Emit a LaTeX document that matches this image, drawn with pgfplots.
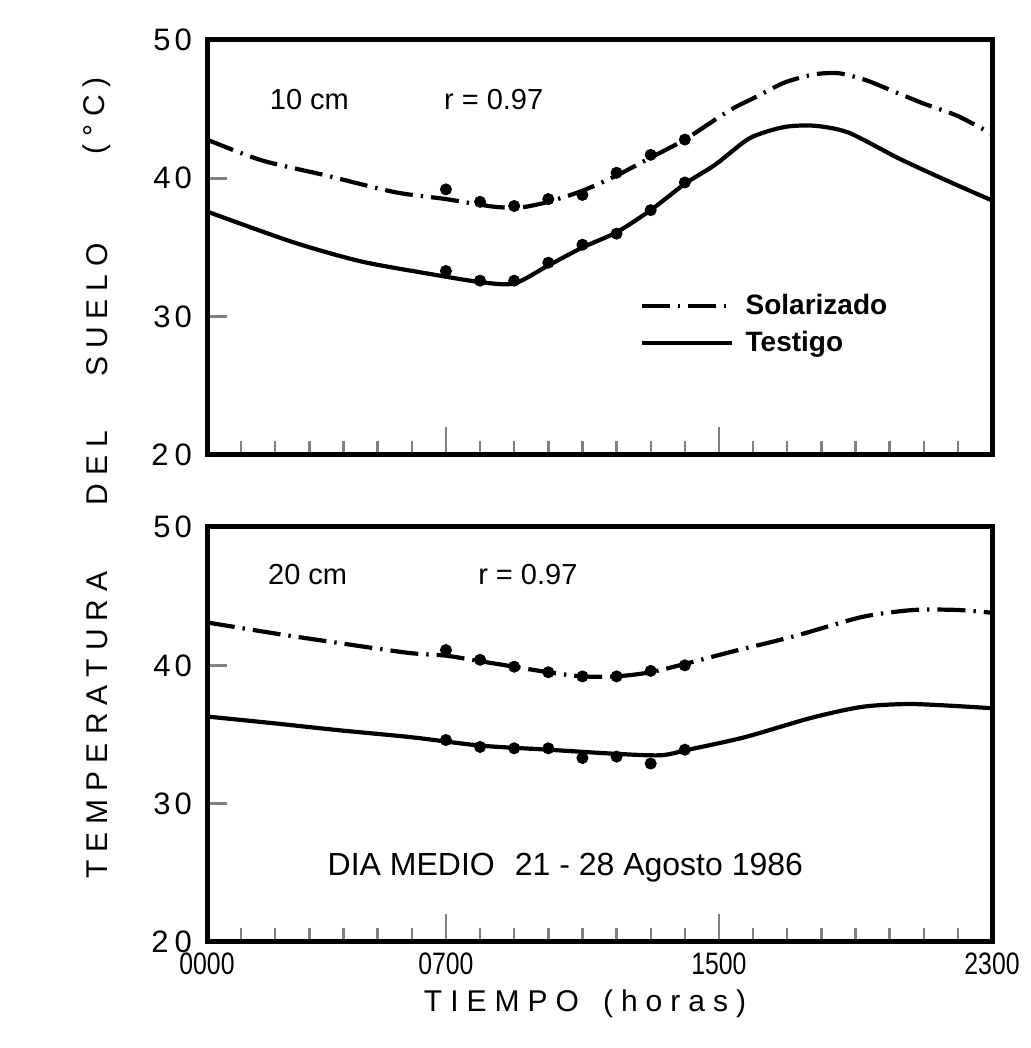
\documentclass[border=0pt]{standalone}
\usepackage{fontspec}
\setmainfont{Liberation Sans}
\usepackage{graphicx}
\usepackage{pgfplots}
\pgfplotsset{compat=1.18}
\newdimen\lsk \lsk=4pt
\makeatletter
\def\ls#1{\ls@#1\@nil\kern-\lsk\relax}
\def\ls@#1{\ifx#1\@nil\else#1\kern\lsk\relax\expandafter\ls@\fi}
\makeatother
\begin{document}
\begin{tikzpicture}
\useasboundingbox (0,0) rectangle (515.5pt,524pt);
\pgfplotsset{
  panel/.style={
    at={(103.5pt,#1)}, anchor=south west, scale only axis,
    width=392.5pt, height=207.5pt,
    xmin=0, xmax=23, ymin=20, ymax=50,
    axis line style={line width=2.5pt},
    tick align=inside, xtick pos=bottom, ytick pos=left,
    xtick={0,7,15,23}, minor xtick={1,...,22},
    ytick={20,30,40,50},
    yticklabels={2\kern3pt 0,3\kern2pt 0,4\kern2pt 0,5\kern2pt 0},
    xtick style={line width=1.2pt, /pgfplots/major tick length=14pt},
    minor tick length=7pt,
    ytick style={line width=1.2pt, /pgfplots/major tick length=10pt},
    tick label style={font=\fontsize{15.5}{15.5}\selectfont},
    yticklabel style={xshift=-4pt},
    clip=false,
  },
  solar/.style={black, line width=2.1pt, dash pattern=on 14pt off 4pt on 1.2pt off 4pt, smooth, tension=0.45},
  test/.style={black, line width=2.1pt, smooth, tension=0.45},
  dots/.style={only marks, mark=*, mark size=2.8pt, black, forget plot},
}
% ---------- top panel: 10 cm ----------
\begin{axis}[panel=296.5pt, xticklabels={},
  legend style={at={(0.5504,0.3933)}, anchor=north west, draw=none, fill=none,
    inner sep=0pt, font=\bfseries\fontsize{14}{14}\selectfont, row sep=5pt,
    nodes={inner sep=1pt},
    /tikz/every odd column/.append style={column sep=5pt}},
  legend cell align=left,
  legend image code/.code={\draw[#1] (0pt,0pt) -- (45pt,0pt);},
]
\addplot[solar] coordinates {(0,42.8) (1.6,41.3) (3.5,40.2) (5.5,39.0) (7,38.5) (8.4,37.95) (9.2,37.9) (10,38.3) (11,39.1) (12,40.2) (13,41.5) (14,42.8) (15.3,44.9) (16.1,45.9) (16.9,46.9) (17.75,47.5) (18.5,47.6) (19.3,47.1) (20.1,46.3) (21,45.4) (22,44.5) (23,43.2)};
\addlegendentry{Solarizado}
\addplot[test] coordinates {(0,37.6) (2.5,35.4) (4.5,34.0) (6.5,33.1) (8,32.5) (9,32.4) (10,33.7) (11,35.0) (12,36.1) (13,37.7) (14,39.6) (14.9,41.0) (15.9,42.9) (16.9,43.7) (17.8,43.8) (18.8,43.3) (20.3,41.4) (21.8,39.7) (23,38.4)};
\addlegendentry{Testigo}
\addplot[dots] coordinates {(7,39.2) (8,38.3) (9,38.0) (10,38.5) (11,38.8) (12,40.4) (13,41.7) (14,42.8)};
\addplot[dots] coordinates {(7,33.3) (8,32.6) (9,32.6) (10,33.9) (11,35.2) (12,36.0) (13,37.7) (14,39.7)};
\node[font=\fontsize{14.5}{14.5}\selectfont] at (axis cs:3.0,45.7) {10 cm};
\node[font=\fontsize{14.5}{14.5}\selectfont] at (axis cs:8.4,45.7) {r = 0.97};
\end{axis}
% ---------- bottom panel: 20 cm ----------
\begin{axis}[panel=53pt,
  xticklabels={\scalebox{0.8}[1]{0000},\scalebox{0.8}[1]{0700},\scalebox{0.8}[1]{1500},\scalebox{0.8}[1]{2300}},
  xticklabel style={yshift=-2pt},
]
\addplot[solar] coordinates {(0,43.1) (2,42.3) (3.9,41.6) (5.9,40.9) (7,40.7) (8,40.3) (9,39.9) (10,39.5) (11,39.2) (12,39.2) (13,39.5) (14,40.1) (15.4,41.0) (17.2,42.1) (19.2,43.5) (20.7,44.0) (22,44.0) (23,43.8)};
\addplot[test] coordinates {(0,36.3) (2,35.8) (3.9,35.3) (6,34.8) (8,34.2) (10,33.9) (12,33.6) (13.3,33.5) (14.1,33.9) (15.75,34.8) (17.7,36.2) (19.2,37.0) (20.7,37.2) (23,36.9)};
\addplot[dots] coordinates {(7,41.1) (8,40.4) (9,39.9) (10,39.5) (11,39.2) (12,39.2) (13,39.6) (14,40.0)};
\addplot[dots] coordinates {(7,34.6) (8,34.1) (9,34.0) (10,34.0) (11,33.3) (12,33.4) (13,32.9) (14,33.9)};
\node[font=\fontsize{14.5}{14.5}\selectfont] at (axis cs:2.95,46.6) {20 cm};
\node[font=\fontsize{14.5}{14.5}\selectfont] at (axis cs:9.4,46.6) {r = 0.97};
\node[font=\fontsize{16}{16}\selectfont] at (axis cs:10.5,25.4) {DIA MEDIO\hspace{10pt}21 - 28 Agosto 1986};
\end{axis}
% ---------- axis titles ----------
\node[rotate=90, font=\fontsize{15}{15}\selectfont] at (48.5pt,161.5pt) {\ls{TEMPERATURA}};
\node[rotate=90, font=\fontsize{15}{15}\selectfont] at (48.5pt,290pt) {\ls{DEL}};
\node[rotate=90, font=\fontsize{15}{15}\selectfont] at (48.5pt,369pt) {\ls{SUELO}};
\node[rotate=90, font=\fontsize{15}{15}\selectfont] at (48.5pt,466pt) {\ls{(°C)}};
\node[font=\fontsize{15}{15}\selectfont] at (292.5pt,22pt) {\ls{TIEMPO}\hspace{12pt}\ls{(horas)}};
\end{tikzpicture}
\end{document}
